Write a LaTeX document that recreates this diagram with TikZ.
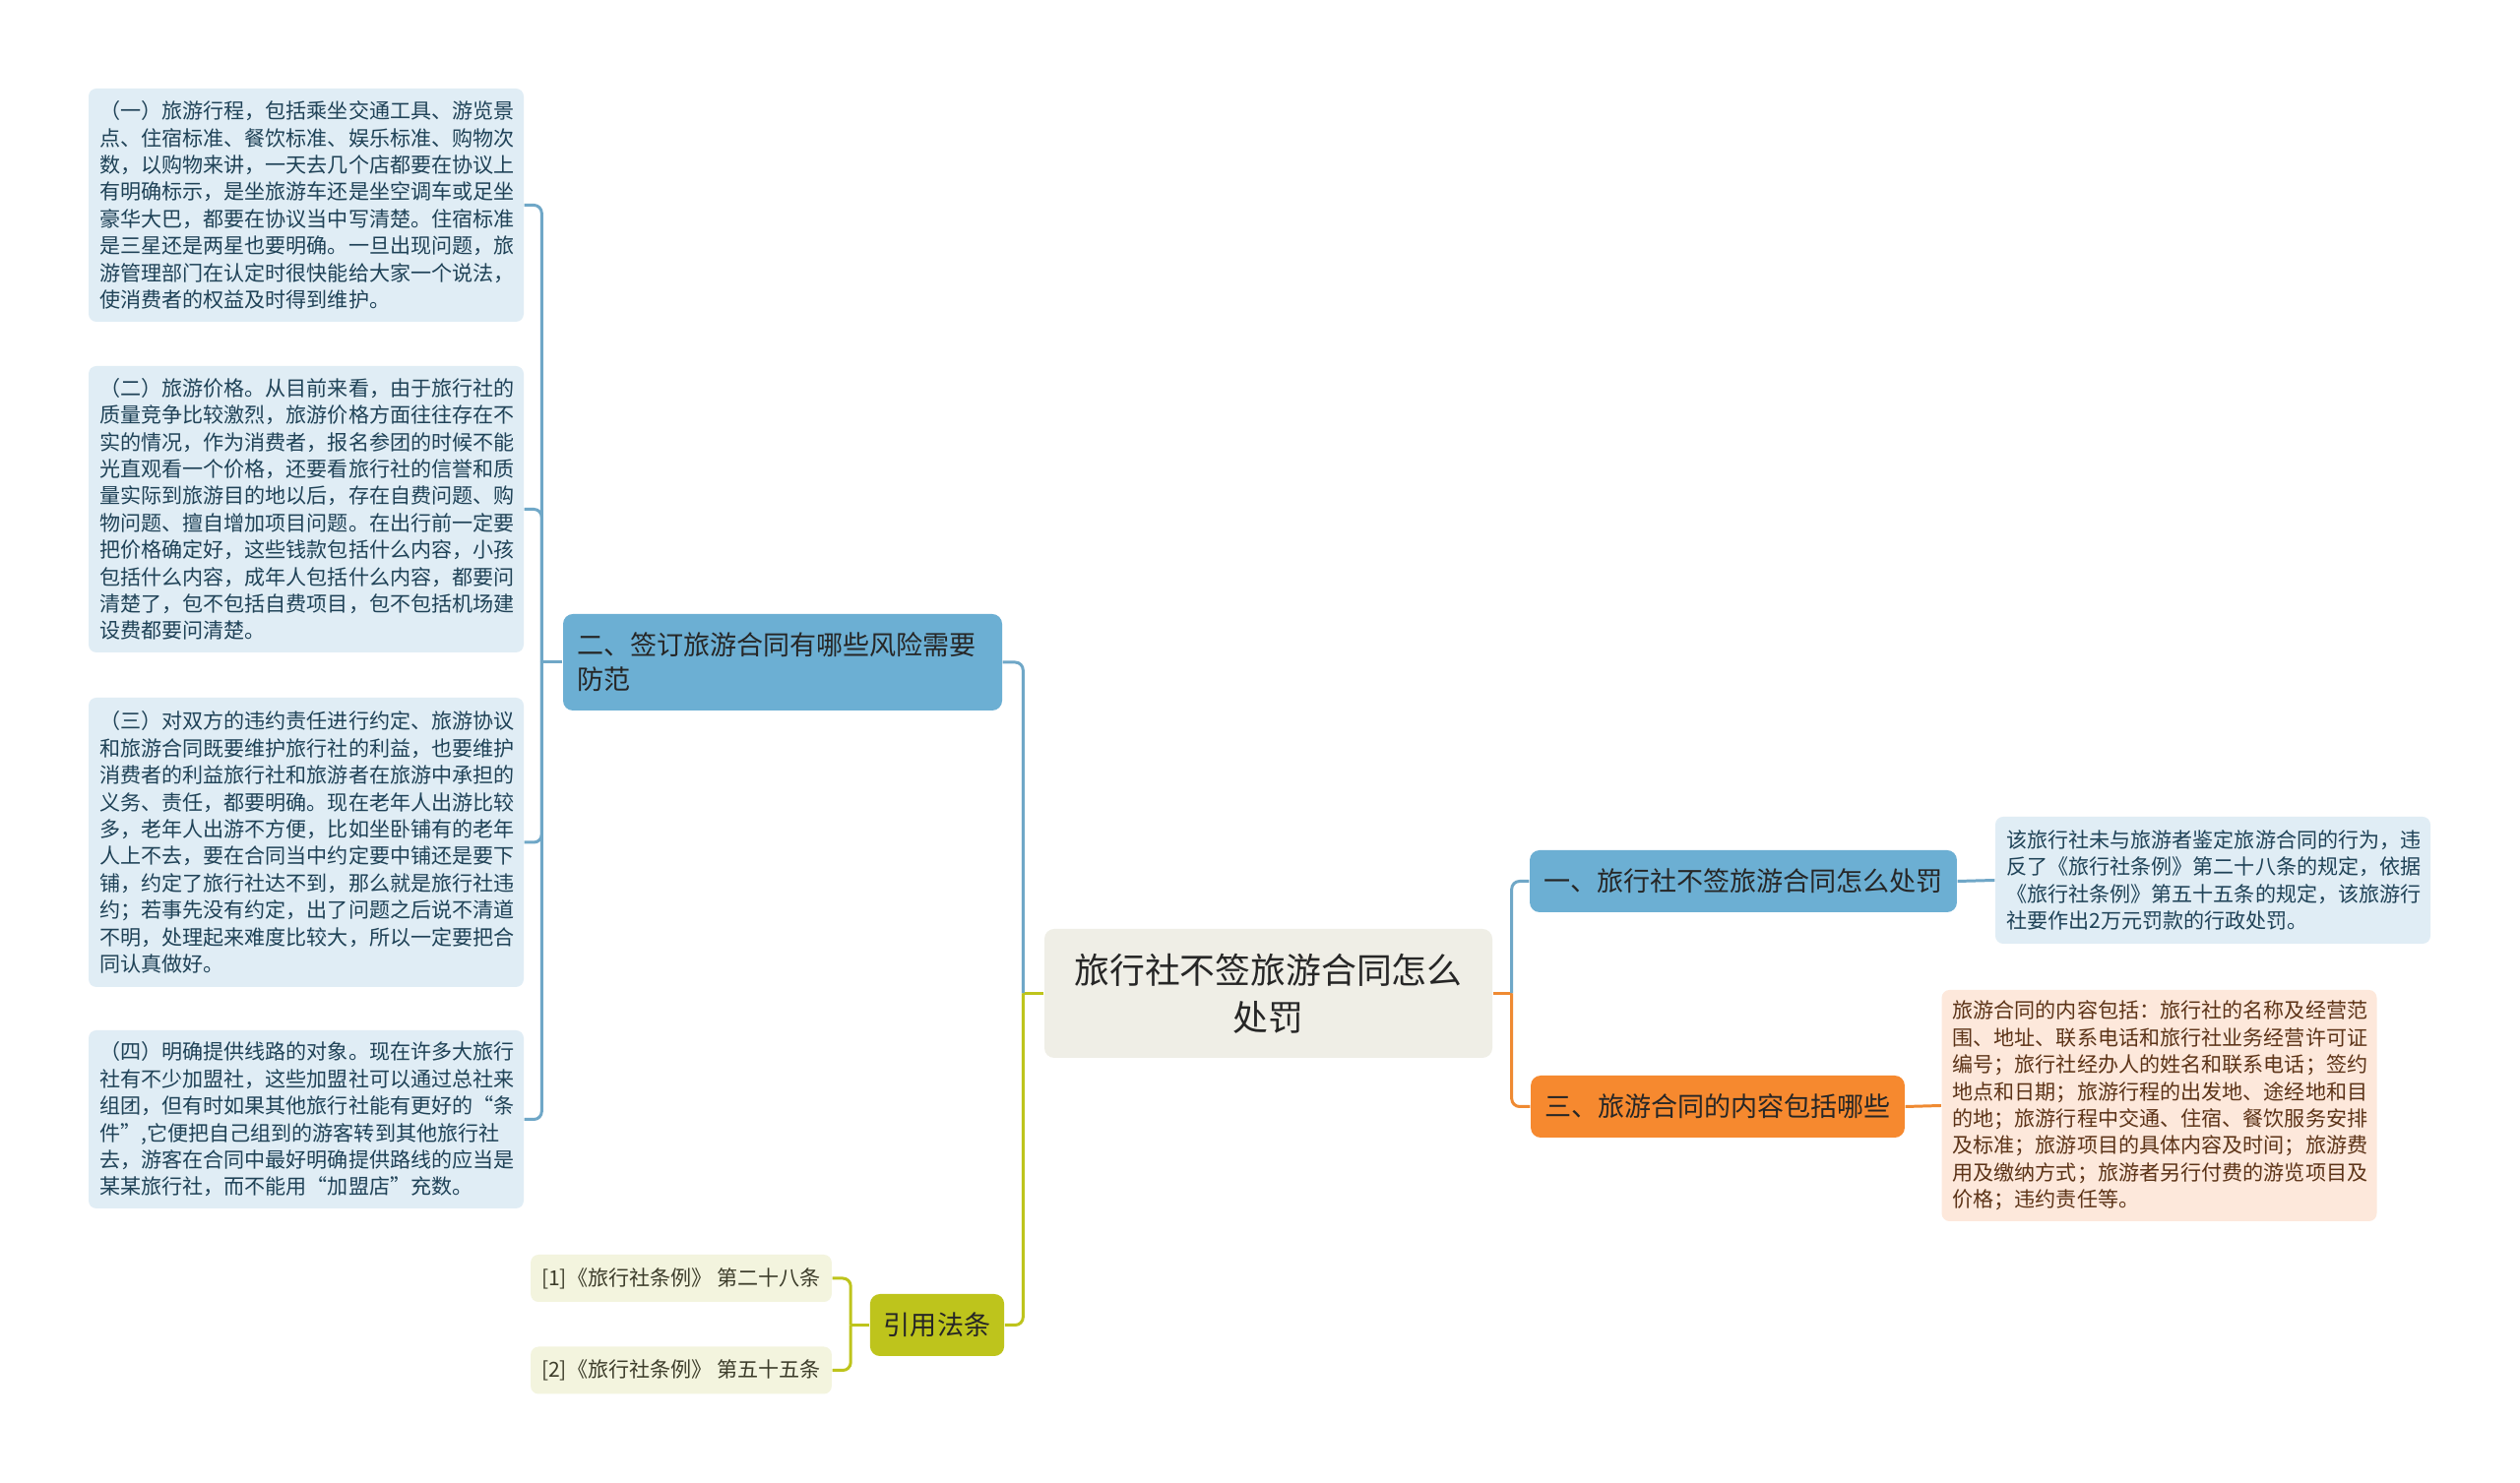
\documentclass[tikz,border=0pt]{standalone}
\usepackage{fontspec}
\setmainfont{Noto Sans CJK SC}
\usetikzlibrary{positioning, calc}
\definecolor{mapblue}{HTML}{6CAFD3}
\definecolor{mapbluelight}{HTML}{E0EDF5}
\definecolor{mapblueline}{HTML}{6FA7C7}
\definecolor{mapbluetext}{HTML}{1F4257}
\definecolor{maporange}{HTML}{F6892F}
\definecolor{maporangelight}{HTML}{FDE8DB}
\definecolor{maporangeline}{HTML}{EF8A32}
\definecolor{maporangetext}{HTML}{5C3317}
\definecolor{mapgreen}{HTML}{BEC41C}
\definecolor{mapgreenlight}{HTML}{F3F4DE}
\definecolor{mapgreentext}{HTML}{3C3C2A}
\definecolor{maproot}{HTML}{EFEEE6}
\definecolor{mapdark}{HTML}{262626}

\tikzset{
  leaf/.style={rounded corners=0.08cm, inner xsep=0.11cm, inner ysep=0pt,
    text width=4.2cm, align=left, font=\fontsize{6pt}{7.8pt}\selectfont},
  blueleaf/.style={leaf, fill=mapbluelight, text=mapbluetext},
  orangeleaf/.style={leaf, fill=maporangelight, text=maporangetext},
  greenleaf/.style={rounded corners=0.08cm, inner xsep=0.11cm, inner ysep=0pt,
    minimum width=3.04cm, minimum height=0.48cm, fill=mapgreenlight,
    text=mapgreentext, font=\fontsize{6pt}{7.8pt}\selectfont},
  branch/.style={rounded corners=0.1cm, inner xsep=0.14cm, inner ysep=0pt,
    minimum height=0.63cm, text=mapdark, font=\fontsize{7.7pt}{10pt}\selectfont},
  link/.style={line width=0.85pt},
  blueline/.style={link, mapblueline},
  orangeline/.style={link, maporangeline},
  greenline/.style={link, mapgreen}
}

\begin{document}
\begin{tikzpicture}
  \useasboundingbox[fill=white] (0,0) rectangle (25.6,15.07);

  % Central topic
  \node[rounded corners=0.1cm, fill=maproot, text=mapdark, minimum width=4.55cm,
    minimum height=1.31cm, align=center, font=\fontsize{10.2pt}{13.7pt}\selectfont]
    (root) at (12.885,4.975) {旅行社不签旅游合同怎么\\处罚};

  % Branch - risks
  \node[branch, fill=mapblue, text width=4.18cm, align=left, minimum height=0.98cm]
    (risk) at (7.95,8.34) {二、签订旅游合同有哪些风险需要\\防范};
  \node[blueleaf, minimum height=2.37cm] (risk1) at (3.11,12.985) {
    （一）旅游行程，包括乘坐交通工具、游览景\\
    点、住宿标准、餐饮标准、娱乐标准、购物次\\
    数，以购物来讲，一天去几个店都要在协议上\\
    有明确标示，是坐旅游车还是坐空调车或足坐\\
    豪华大巴，都要在协议当中写清楚。住宿标准\\
    是三星还是两星也要明确。一旦出现问题，旅\\
    游管理部门在认定时很快能给大家一个说法，\\
    使消费者的权益及时得到维护。};
  \node[blueleaf, minimum height=2.91cm] (risk2) at (3.11,9.895) {
    （二）旅游价格。从目前来看，由于旅行社的\\
    质量竞争比较激烈，旅游价格方面往往存在不\\
    实的情况，作为消费者，报名参团的时候不能\\
    光直观看一个价格，还要看旅行社的信誉和质\\
    量实际到旅游目的地以后，存在自费问题、购\\
    物问题、擅自增加项目问题。在出行前一定要\\
    把价格确定好，这些钱款包括什么内容，小孩\\
    包括什么内容，成年人包括什么内容，都要问\\
    清楚了，包不包括自费项目，包不包括机场建\\
    设费都要问清楚。};
  \node[blueleaf, minimum height=2.94cm] (risk3) at (3.11,6.51) {
    （三）对双方的违约责任进行约定、旅游协议\\
    和旅游合同既要维护旅行社的利益，也要维护\\
    消费者的利益旅行社和旅游者在旅游中承担的\\
    义务、责任，都要明确。现在老年人出游比较\\
    多，老年人出游不方便，比如坐卧铺有的老年\\
    人上不去，要在合同当中约定要中铺还是要下\\
    铺，约定了旅行社达不到，那么就是旅行社违\\
    约；若事先没有约定，出了问题之后说不清道\\
    不明，处理起来难度比较大，所以一定要把合\\
    同认真做好。};
  \node[blueleaf, minimum height=1.81cm] (risk4) at (3.11,3.695) {
    （四）明确提供线路的对象。现在许多大旅行\\
    社有不少加盟社，这些加盟社可以通过总社来\\
    组团，但有时如果其他旅行社能有更好的“条\\
    件”,它便把自己组到的游客转到其他旅行社\\
    去，游客在合同中最好明确提供路线的应当是\\
    某某旅行社，而不能用“加盟店”充数。};

  % Branch - penalty
  \node[branch, fill=mapblue, minimum width=4.30cm] (penalty) at (17.71,6.115)
    {一、旅行社不签旅游合同怎么处罚};
  \node[blueleaf, minimum height=1.29cm] (penalty1) at (22.48,6.125) {
    该旅行社未与旅游者鉴定旅游合同的行为，违\\
    反了《旅行社条例》第二十八条的规定，依据\\
    《旅行社条例》第五十五条的规定，该旅游行\\
    社要作出2万元罚款的行政处罚。};

  % Branch - contract content
  \node[branch, fill=maporange, minimum width=3.78cm] (content) at (17.45,3.825)
    {三、旅游合同的内容包括哪些};
  \node[orangeleaf, minimum height=2.35cm] (content1) at (21.935,3.835) {
    旅游合同的内容包括：旅行社的名称及经营范\\
    围、地址、联系电话和旅行社业务经营许可证\\
    编号；旅行社经办人的姓名和联系电话；签约\\
    地点和日期；旅游行程的出发地、途经地和目\\
    的地；旅游行程中交通、住宿、餐饮服务安排\\
    及标准；旅游项目的具体内容及时间；旅游费\\
    用及缴纳方式；旅游者另行付费的游览项目及\\
    价格；违约责任等。};

  % Branch - laws
  \node[branch, fill=mapgreen, minimum width=1.36cm] (law) at (9.52,1.605) {引用法条};
  \node[greenleaf] (law1) at (6.92,2.08) {[1]《旅行社条例》 第二十八条};
  \node[greenleaf] (law2) at (6.92,1.145) {[2]《旅行社条例》 第五十五条};

  % Connectors
  \coordinate (rootl) at ($(root.west)+(-0.21,0)$);
  \coordinate (rootr) at ($(root.east)+(0.19,0)$);
  \coordinate (riskj) at ($(risk.west)+(-0.21,0)$);
  \coordinate (lawj) at ($(law.west)+(-0.19,0)$);

  \draw[greenline] (root.west) -- (rootl);
  \draw[blueline, rounded corners=0.08cm] (rootl) |- (risk.east);
  \draw[greenline, rounded corners=0.08cm] (rootl) |- (law.east);
  \draw[orangeline] (root.east) -- (rootr);
  \draw[blueline, rounded corners=0.08cm] (rootr) |- (penalty.west);
  \draw[orangeline, rounded corners=0.08cm] (rootr) |- (content.west);

  \draw[blueline] (risk.west) -- (riskj);
  \foreach \n in {risk1,risk2,risk3,risk4}
    \draw[blueline, rounded corners=0.08cm] (riskj) |- (\n.east);

  \draw[blueline] (penalty.east) -- (penalty1.west);
  \draw[orangeline] (content.east) -- (content1.west);

  \draw[greenline] (law.west) -- (lawj);
  \foreach \n in {law1,law2}
    \draw[greenline, rounded corners=0.08cm] (lawj) |- (\n.east);
\end{tikzpicture}
\end{document}
